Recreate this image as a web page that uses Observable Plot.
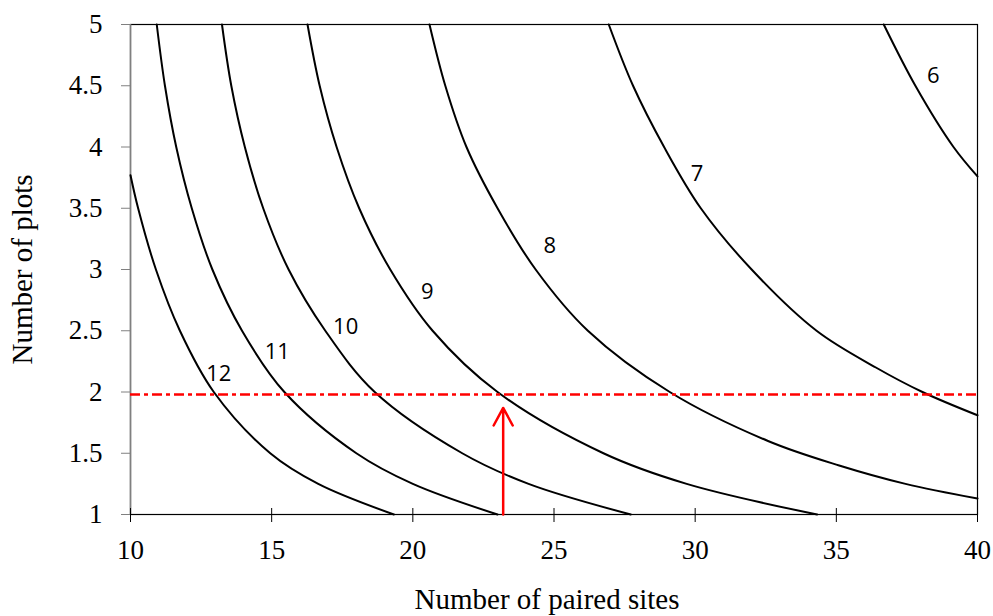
<!DOCTYPE html>
<html><head><meta charset="utf-8">
<script src="https://cdn.jsdelivr.net/npm/d3@7"></script>
<script src="https://cdn.jsdelivr.net/npm/@observablehq/plot@0.6"></script>
<style>
body{margin:0;background:#fff}
</style>
</head><body><div id="chart"></div>
<script>
// Curve labels (one contour per value)
const curveLabels = ["6", "7", "8", "9", "10", "11", "12"];

// Contour curves: number of paired sites (x) vs number of plots (y)
const sites6 = [36.68, 37.8, 39.15, 40];
const plots6 = [5, 4.5, 4.0, 3.76];

const sites7 = [26.94, 27.8, 28.9, 30.2, 32.0, 34.3, 36.4, 38.05, 40];
const plots7 = [5, 4.5, 4.0, 3.5, 3.0, 2.5, 2.2, 2.0, 1.81];

const sites8 = [20.59, 21.15, 21.9, 23.0, 24.35, 26.2, 29.1, 32.58, 35.1, 37.45, 40];
const plots8 = [5, 4.5, 4.0, 3.5, 3.0, 2.5, 2.0, 1.6, 1.4, 1.25, 1.13];

const sites9 = [16.27, 16.7, 17.3, 18.1, 19.2, 20.7, 23.0, 26.75, 29.7, 34.32];
const plots9 = [5, 4.5, 4.0, 3.5, 3.0, 2.5, 2.0, 1.5, 1.25, 1.0];

const sites10 = [13.24, 13.57, 14.05, 14.7, 15.6, 16.9, 18.65, 21.75, 24.1, 27.72];
const plots10 = [5, 4.5, 4.0, 3.5, 3.0, 2.5, 2.0, 1.5, 1.25, 1.0];

const sites11 = [10.93, 11.22, 11.62, 12.17, 12.9, 13.95, 15.45, 18.0, 20.0, 23.0];
const plots11 = [5, 4.5, 4.0, 3.5, 3.0, 2.5, 2.0, 1.5, 1.25, 1.0];

const sites12 = [10, 10.27, 10.9, 11.75, 12.95, 14.95, 16.65, 19.33];
const plots12 = [3.77, 3.5, 3.0, 2.5, 2.0, 1.5, 1.25, 1.0];

// Label anchor positions (data coordinates)
const labelSites = [38.43, 30.07, 24.85, 20.51, 17.62, 15.2, 13.13];
const labelPlots = [4.58, 3.78, 3.196, 2.815, 2.53, 2.326, 2.144];

// Ticks
const xTicks = [10, 15, 20, 25, 30, 35, 40];
const yTicks = [1, 1.5, 2, 2.5, 3, 3.5, 4, 4.5, 5];
const xTickLabels = ["10", "15", "20", "25", "30", "35", "40"];
const yTickLabels = ["1", "1.5", "2", "2.5", "3", "3.5", "4", "4.5", "5"];

// Red reference line and arrow
const thresholdPlots = 1.98;
const arrowSites = 23.2;
const arrowPlots = [1, 1.87];

const series = [
  [sites6, plots6], [sites7, plots7], [sites8, plots8], [sites9, plots9],
  [sites10, plots10], [sites11, plots11], [sites12, plots12]
];
const rows = series.flatMap(([xs, ys], i) =>
  xs.map((x, j) => ({curve: curveLabels[i], sites: x, plots: ys[j]})));
const labels = curveLabels.map((t, i) => ({t, x: labelSites[i], y: labelPlots[i]}));
const arrows = [{x: arrowSites, y1: arrowPlots[0], y2: arrowPlots[1]}];
const xTickRows = xTicks.map((v, i) => ({v, t: xTickLabels[i]}));
const yTickRows = yTicks.map((v, i) => ({v, t: yTickLabels[i]}));

const serif = "Liberation Serif";

const chart = Plot.plot({
  width: 993,
  height: 616,
  marginLeft: 130,
  marginRight: 16,
  marginTop: 24,
  marginBottom: 102,
  x: {domain: [10, 40]},
  y: {domain: [1, 5]},
  style: {fontFamily: serif, fontSize: "27px", color: "black", background: "white"},
  marks: [
    Plot.frame({stroke: "black", strokeWidth: 1.2}),
    Plot.ruleX([10], {stroke: "#808080", strokeWidth: 1.5}),
    Plot.axisY({ticks: yTicks, tickFormat: () => "", tickSize: 9, stroke: "#808080", label: null}),
    Plot.axisX({ticks: xTicks, tickFormat: () => "", tickSize: 14, dy: -6, stroke: "black", label: null}),
    Plot.text(yTickRows, {y: "v", text: "t", frameAnchor: "left", textAnchor: "end", lineAnchor: "middle", dx: -28, fontSize: 27, fontFamily: serif, fill: "black"}),
    Plot.text(xTickRows, {x: "v", text: "t", frameAnchor: "bottom", textAnchor: "middle", lineAnchor: "middle", dy: 36, fontSize: 27, fontFamily: serif, fill: "black"}),
    Plot.line(rows, {x: "sites", y: "plots", z: "curve", stroke: "black", strokeWidth: 2, curve: "catmull-rom"}),
    Plot.ruleY([thresholdPlots], {stroke: "red", strokeWidth: 2.5, strokeDasharray: "10,4,4,4"}),
    Plot.arrow(arrows, {x1: "x", x2: "x", y1: "y1", y2: "y2", stroke: "red", strokeWidth: 2.5, headAngle: 57, headLength: 12}),
    Plot.text(labels, {x: "x", y: "y", text: "t", fontFamily: "Open Sans", fontSize: 22, fill: "black"}),
    Plot.text(["Number of plots"], {frameAnchor: "left", textAnchor: "middle", lineAnchor: "middle", rotate: -90, dx: -108, fontSize: 29, fontFamily: serif, fill: "black"}),
    Plot.text(["Number of paired sites"], {frameAnchor: "bottom", textAnchor: "middle", lineAnchor: "middle", dy: 85, dx: -7, fontSize: 29, fontFamily: serif, fill: "black"})
  ]
});
document.getElementById("chart").appendChild(chart);
</script>
</body></html>
